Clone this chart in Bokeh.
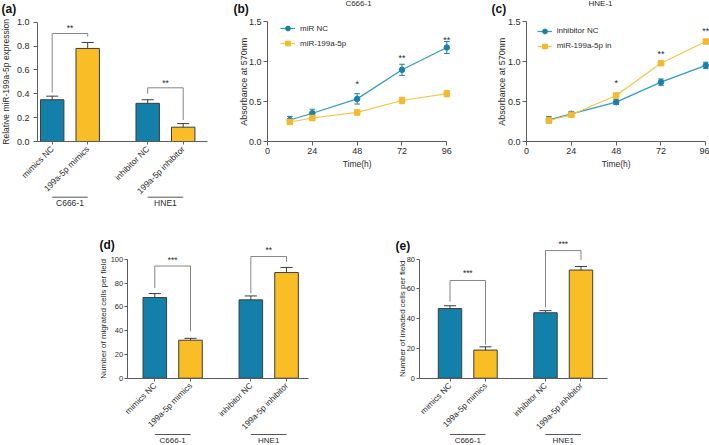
import math
from bokeh.plotting import figure
from bokeh.layouts import row, column
from bokeh.models import Legend, LegendItem, FixedTicker, Range1d, NumeralTickFormatter
from bokeh.core.properties import value
from bokeh.embed import file_html
from bokeh.resources import INLINE

FONT = "Liberation Sans"
BLUE = "#1280a8"
GOLD = "#f9bd25"
BAR_EDGE = "#3d3d3d"
AXIS = "#5c5c5c"
TXT = "#2b2b2b"
BRACKET = "#858585"
LINE_BLUE = "#2f9bca"
MARK_BLUE = "#1a80a9"
LINE_GOLD = "#f8c446"
MARK_GOLD = "#f6b92c"

# ---------------- data ----------------
bar_categories = ["mimics NC", "199a-5p mimics", "inhibitor NC", "199a-5p inhibitor"]
bar_groups = ["C666-1", "C666-1", "HNE1", "HNE1"]
sig_pairs = [(0, 1), (2, 3)]

a_values = [0.35, 0.78, 0.32, 0.12]
a_errors = [0.03, 0.05, 0.03, 0.03]
a_yticks = [0.0, 0.2, 0.4, 0.6, 0.8, 1.0]
a_sig_left_y = [0.41, 0.40]
a_sig_right_y = [0.88, 0.18]
a_sig_top_y = [0.905, 0.45]
a_sig_text = ["**", "**"]
a_sig_text_y = [0.975, 0.515]

d_values = [68, 32, 66, 89]
d_errors = [3.3, 1.6, 3.3, 4.3]
d_yticks = [0, 20, 40, 60, 80, 100]
d_sig_left_y = [76, 71.5]
d_sig_right_y = [39.5, 98]
d_sig_top_y = [94.5, 102.5]
d_sig_text = ["***", "**"]
d_sig_text_y = [102, 110.5]

e_values = [46.8, 18.9, 44, 72.7]
e_errors = [1.9, 2.2, 1.4, 2.4]
e_yticks = [0, 20, 40, 60, 80]
e_sig_left_y = [51.5, 47.5]
e_sig_right_y = [22.5, 79.5]
e_sig_top_y = [65.7, 85.8]
e_sig_text = ["***", "***"]
e_sig_text_y = [72.4, 92]

time_h = [12, 24, 48, 72, 96]
time_ticks = [0, 24, 48, 72, 96]
abs_ticks = [0.0, 0.5, 1.0, 1.5]

b_names = ["miR NC", "miR-199a-5p"]
b_nc = [0.27, 0.355, 0.535, 0.90, 1.18]
b_nc_err = [0.045, 0.05, 0.065, 0.07, 0.075]
b_mir = [0.245, 0.295, 0.365, 0.515, 0.60]
b_mir_err = [0.03, 0.03, 0.03, 0.04, 0.04]
b_star_x = [48, 72, 96]
b_star_text = ["*", "**", "**"]
b_star_y = [0.75, 1.08, 1.31]

c_names = ["inhibitor NC", "miR-199a-5p in"]
c_nc = [0.272, 0.347, 0.494, 0.745, 0.955]
c_nc_err = [0.04, 0.03, 0.03, 0.04, 0.04]
c_inh = [0.264, 0.335, 0.577, 0.983, 1.255]
c_inh_err = [0.03, 0.02, 0.03, 0.02, 0.02]
c_star_x = [48, 72, 96]
c_star_text = ["*", "**", "**"]
c_star_y = [0.765, 1.13, 1.415]


class Canvas:
    """Maps canvas pixel layout to data ranges: (x0px, y0px) is where data 0 sits."""
    def __init__(self, w, h, x0px, sx, y0px, sy):
        self.w, self.h, self.x0px, self.sx, self.y0px, self.sy = w, h, x0px, sx, y0px, sy

    def x(self, px):
        return (px - self.x0px) / self.sx

    def y(self, py):
        return (self.y0px - py) / self.sy

    def fig(self):
        p = figure(width=self.w, height=self.h,
                   x_range=Range1d(self.x(0), self.x(self.w)),
                   y_range=Range1d(self.y(self.h), self.y(0)),
                   output_backend="svg", toolbar_location=None,
                   min_border_left=0, min_border_right=0, min_border_top=0, min_border_bottom=0)
        p.outline_line_color = None
        p.grid.visible = False
        p.background_fill_color = "white"
        p.border_fill_color = "white"
        return p


def positions(groups, gap=0.69):
    pos, g, k, idx = [], 0, 0, []
    for i, gname in enumerate(groups):
        if i > 0 and gname != groups[i - 1]:
            g += 1
            k = 0
        pos.append(i + g * gap)
        idx.append(k)
        k += 1
    return pos, idx


def style_axis(ax, fs, tick_out=4, standoff=2):
    ax.axis_line_color = AXIS
    ax.axis_line_width = 1
    ax.major_tick_line_color = AXIS
    ax.minor_tick_line_color = None
    ax.major_tick_out = tick_out
    ax.major_tick_in = 0
    ax.major_label_text_font = FONT
    ax.major_label_text_font_size = fs
    ax.major_label_text_color = TXT
    ax.major_label_standoff = standoff


def add_text(p, x, y, text, size, align="center", angle=0.0, bold=False, yoff=0):
    p.text(x=[x], y=[y], text=[text], angle=angle, text_align=align, text_baseline="middle",
           text_font=value(FONT), text_font_size=size, text_color=TXT if not bold else "#111111",
           text_font_style="bold" if bold else "normal", y_offset=yoff)


def bar_panel(cv, vals, errs, yticks, ylabel, left_y, right_y, top_y, sig_text, sig_text_y,
              fs, cat_fs, lab_fs, yaxis_px, xend_px, ylab_px, group_px, letter, letter_px,
              yfmt=None, ystandoff=3, ytick_out=4):
    pos, idx = positions(bar_groups)
    colors = [BLUE if k == 0 else GOLD for k in idx]
    p = cv.fig()
    p.vbar(x=pos, top=vals, bottom=0, width=0.66, fill_color=colors,
           line_color=BAR_EDGE, line_width=1)
    tops = [v + e for v, e in zip(vals, errs)]
    p.segment(x0=pos, y0=vals, x1=pos, y1=tops, line_color=BAR_EDGE, line_width=1)
    p.segment(x0=[x - 0.17 for x in pos], y0=tops, x1=[x + 0.17 for x in pos], y1=tops,
              line_color=BAR_EDGE, line_width=1)
    xs = [[pos[i], pos[i], pos[j], pos[j]] for i, j in sig_pairs]
    ys = [[l, t, t, r] for l, t, r in zip(left_y, top_y, right_y)]
    p.multi_line(xs, ys, line_color=BRACKET, line_width=1)
    p.text(x=[(pos[i] + pos[j]) / 2 for i, j in sig_pairs], y=sig_text_y, text=sig_text,
           text_align="center", text_baseline="middle", text_font=value(FONT),
           text_font_size=cat_fs, text_color=TXT, y_offset=2.5)
    # group labels with a line above them
    gnames, gx0, gx1 = [], [], []
    for x, g in zip(pos, bar_groups):
        if g not in gnames:
            gnames.append(g)
            gx0.append(x)
            gx1.append(x)
        else:
            gx1[gnames.index(g)] = x
    line_y, text_y = cv.y(group_px[0]), cv.y(group_px[1])
    p.segment(x0=gx0, y0=[line_y] * len(gnames), x1=gx1, y1=[line_y] * len(gnames),
              line_color="#555555", line_width=1)
    p.text(x=[(a + b) / 2 for a, b in zip(gx0, gx1)], y=[text_y] * len(gnames), text=gnames,
           text_align="center", text_baseline="middle", text_font=value(FONT),
           text_font_size=lab_fs, text_color=TXT)
    xa = p.xaxis[0]
    style_axis(xa, cat_fs, tick_out=3, standoff=3)
    xa.fixed_location = 0
    xa.bounds = (cv.x(yaxis_px), cv.x(xend_px))
    xa.ticker = FixedTicker(ticks=pos)
    xa.major_label_overrides = {x: c for x, c in zip(pos, bar_categories)}
    xa.major_label_orientation = math.pi / 4
    ya = p.yaxis[0]
    style_axis(ya, fs, tick_out=ytick_out, standoff=ystandoff)
    ya.fixed_location = cv.x(yaxis_px)
    ya.ticker = FixedTicker(ticks=yticks)
    ya.bounds = (yticks[0], yticks[-1])
    if yfmt:
        ya.formatter = NumeralTickFormatter(format=yfmt)
    add_text(p, cv.x(ylab_px), (yticks[0] + yticks[-1]) / 2, ylabel, lab_fs, angle=math.pi / 2)
    add_text(p, cv.x(letter_px[0]), cv.y(letter_px[1]), letter, "12px", align="left", bold=True)
    return p


def line_panel(cv, names, s1, e1, s2, e2, star_x, star_text, star_y, title, title_px,
               ylab_px, xlab_py, letter, letter_px, legend_xy):
    p = cv.fig()
    items = []
    specs = [(s1, e1, LINE_BLUE, MARK_BLUE, "circle"), (s2, e2, LINE_GOLD, MARK_GOLD, "square")]
    for name, (vals, errs, lc, mc, mk) in zip(names, specs):
        lo = [v - e for v, e in zip(vals, errs)]
        hi = [v + e for v, e in zip(vals, errs)]
        p.segment(x0=time_h, y0=lo, x1=time_h, y1=hi, line_color=mc, line_width=1)
        p.segment(x0=[t - 1.5 for t in time_h], y0=hi, x1=[t + 1.5 for t in time_h], y1=hi,
                  line_color=mc, line_width=1)
        p.segment(x0=[t - 1.5 for t in time_h], y0=lo, x1=[t + 1.5 for t in time_h], y1=lo,
                  line_color=mc, line_width=1)
        ln = p.line(time_h, vals, line_color=lc, line_width=1.2)
        sc = p.scatter(time_h, vals, marker=mk, size=5.5, fill_color=mc, line_color=mc)
        items.append(LegendItem(label=name, renderers=[ln, sc]))
    p.text(x=star_x, y=star_y, text=star_text, text_align="center", text_baseline="middle",
           text_font=value(FONT), text_font_size="9px", text_color=TXT, y_offset=2.5)
    legend = Legend(items=items, location=legend_xy, glyph_width=15, glyph_height=12,
                    label_height=12, label_width=10, spacing=3, padding=0, margin=0,
                    label_standoff=5, border_line_color=None, background_fill_alpha=0,
                    label_text_font=FONT, label_text_font_size="8px", label_text_color=TXT)
    p.add_layout(legend)
    xa = p.xaxis[0]
    style_axis(xa, "9px", tick_out=4, standoff=2)
    xa.fixed_location = 0
    xa.ticker = FixedTicker(ticks=time_ticks)
    xa.bounds = (time_ticks[0], time_ticks[-1])
    ya = p.yaxis[0]
    style_axis(ya, "9px", tick_out=4, standoff=2)
    ya.fixed_location = 0
    ya.ticker = FixedTicker(ticks=abs_ticks)
    ya.bounds = (abs_ticks[0], abs_ticks[-1])
    ya.formatter = NumeralTickFormatter(format="0.0")
    add_text(p, (time_ticks[0] + time_ticks[-1]) / 2, cv.y(xlab_py), "Time(h)", "8.5px")
    add_text(p, cv.x(ylab_px), (abs_ticks[0] + abs_ticks[-1]) / 2, "Absorbance at 570nm",
             "9px", angle=math.pi / 2)
    add_text(p, cv.x(title_px[0]), cv.y(title_px[1]), title, "8px")
    add_text(p, cv.x(letter_px[0]), cv.y(letter_px[1]), letter, "12px", align="left", bold=True)
    return p


# canvas geometry (pixels) for each panel
CA = Canvas(225, 215, 51.7, 35.5, 141.0, 119.3)
CB = Canvas(233, 215, 42.0, 1.868, 141.0, 79.67)
CC = Canvas(251, 215, 68.0, 1.868, 141.0, 79.67)
CD = Canvas(378, 230, 154.3, 35.7, 162.7, 1.187)
CE = Canvas(331, 230, 71.5, 35.5, 162.7, 1.4875)

fa = bar_panel(CA, a_values, a_errors, a_yticks, "Relative miR-199a-5p expression",
               a_sig_left_y, a_sig_right_y, a_sig_top_y, a_sig_text, a_sig_text_y,
               "9px", "8.5px", "8.5px", 37, 206.7, 5.5, (196.7, 202.7), "(a)", (1, 8.5),
               yfmt="0.0", ystandoff=4)

fb = line_panel(CB, b_names, b_nc, b_nc_err, b_mir, b_mir_err, b_star_x, b_star_text, b_star_y,
                "C666-1", (133, 2.5), 18.3, 163.3, "(b)", (8, 8.5), (55, 165.7))

fc = line_panel(CC, c_names, c_nc, c_nc_err, c_inh, c_inh_err, c_star_x, c_star_text, c_star_y,
                "HNE-1", (142, 3.0), 43.3, 163.3, "(c)", (33, 8.5), (78.7, 163.3))

fd = bar_panel(CD, d_values, d_errors, d_yticks, "Number of migrated cells per field",
               d_sig_left_y, d_sig_right_y, d_sig_top_y, d_sig_text, d_sig_text_y,
               "7.5px", "8.3px", "8px", 126.7, 308.3, 103.0, (219.0, 225.0), "(d)", (99, 29.5),
               ystandoff=1, ytick_out=3)

fe = bar_panel(CE, e_values, e_errors, e_yticks, "Number of invaded cells per field",
               e_sig_left_y, e_sig_right_y, e_sig_top_y, e_sig_text, e_sig_text_y,
               "7.5px", "8.3px", "8px", 40.5, 229.0, 23.5, (219.0, 225.0), "(e)", (17, 30),
               ystandoff=1, ytick_out=3)

root = column(row(fa, fb, fc), row(fd, fe))

with open("out.html", "w") as f:
    f.write(file_html(root, INLINE, title="chart"))
